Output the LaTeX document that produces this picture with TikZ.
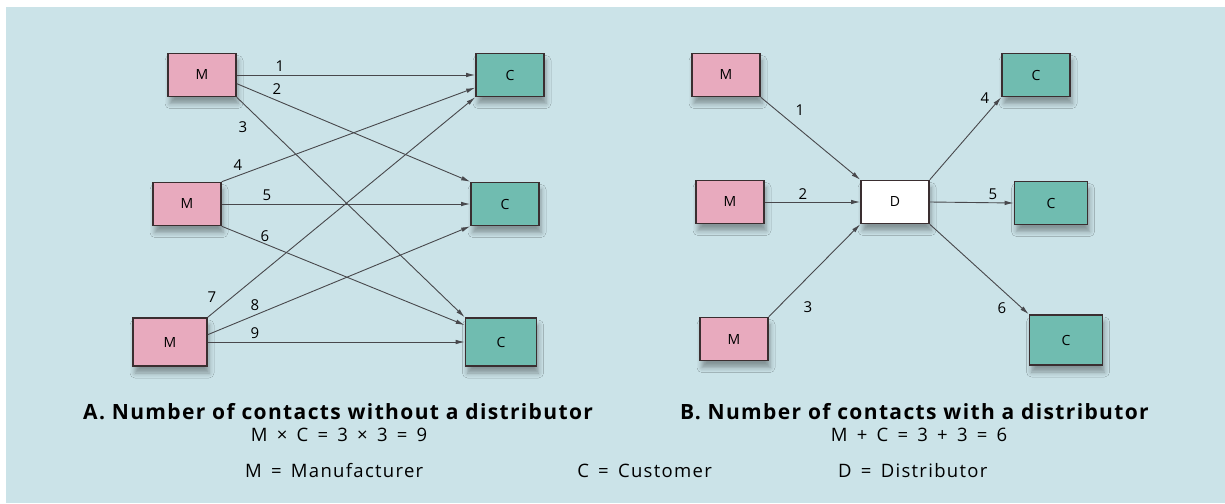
\documentclass[tikz,border=0pt]{standalone}
\usepackage{fontspec}
\setmainfont{Open Sans}
\usetikzlibrary{arrows.meta,shadows.blur}

\definecolor{pagebg}{RGB}{203,227,232}
\definecolor{mfill}{RGB}{232,170,190}
\definecolor{cfill}{RGB}{112,188,176}
\definecolor{boxline}{RGB}{58,46,48}
\definecolor{arrowline}{RGB}{72,72,76}

\newcommand{\gap}{\hspace{0.5em}}

\begin{document}
\begin{tikzpicture}[
  x=1pt, y=-1pt,
  >={Latex[length=9pt,width=4.5pt]},
  box/.style={draw=boxline, line width=1.6pt, minimum width=68pt,
    minimum height=43pt, inner sep=0pt, font=\fontsize{14}{14}\selectfont,
    blur shadow={shadow xshift=2pt, shadow yshift=-7pt,
      shadow blur radius=5pt, shadow opacity=35}},
  mbox/.style={box, fill=mfill},
  cbox/.style={box, fill=cfill},
  dbox/.style={box, fill=white},
  link/.style={->, arrowline, line width=0.9pt},
  num/.style={font=\fontsize{15}{15}\selectfont, inner sep=1pt},
  captxt/.style={font=\fontsize{21}{24}\bfseries\addfontfeatures{LetterSpace=6.5},
    anchor=west, inner sep=0pt},
  eqtxt/.style={font=\fontsize{18.5}{20}\selectfont\addfontfeatures{LetterSpace=7},
    inner sep=0pt},
]

% ── Page ──────────────────────────────────────────────────────────────────────
\fill[white] (0,0) rectangle (1225,503);
\fill[pagebg] (6,7) rectangle (1225,503);
\useasboundingbox (0,0) rectangle (1225,503);

% ── A: without a distributor ──────────────────────────────────────────────────
\node[mbox] (M1) at (202,75) {M};
\node[mbox] (M2) at (187,204) {M};
\node[mbox, minimum width=74pt, minimum height=48pt] (M3) at (170,342) {M};
\node[cbox] (C1) at (510,75) {C};
\node[cbox] (C2) at (505,204) {C};
\node[cbox, minimum width=71pt, minimum height=48pt] (C3) at (501,342) {C};

\draw[link] (M1.east)        -- (C1.west);
\draw[link] (M1.-14)         -- (C2.north west);
\draw[link] (M1.south east)  -- (C3.north west);
\draw[link] (M2.north east)  -- (C1.200);
\draw[link] (M2.east)        -- (C2.west);
\draw[link] (M2.south east)  -- (C3.155);
\draw[link] (M3.north east)  -- (C1.south west);
\draw[link] (M3.11)          -- (C2.south west);
\draw[link] (M3.east)        -- (C3.west);

\node[num] (a1) at (280,66)  {1};
\node[num] (a2) at (277,89)  {2};
\node[num] (a3) at (243,127) {3};
\node[num] (a4) at (238,165) {4};
\node[num] (a5) at (267,195) {5};
\node[num] (a6) at (265,236) {6};
\node[num] (a7) at (212,297) {7};
\node[num] (a8) at (255,305) {8};
\node[num] (a9) at (255,333) {9};

% ── B: with a distributor ─────────────────────────────────────────────────────
\node[mbox] (MA) at (726,75)  {M};
\node[mbox] (MB) at (730,202) {M};
\node[mbox] (MC) at (734,339) {M};
\node[dbox] (D)  at (895,202) {D};
\node[cbox] (CA) at (1036,75) {C};
\node[cbox, minimum width=73pt] (CB) at (1051,203) {C};
\node[cbox, minimum width=73pt, minimum height=50pt] (CC) at (1066,340) {C};

\draw[link] (MA.south east) -- (D.north west);
\draw[link] (MB.east)       -- (D.west);
\draw[link] (MC.north east) -- (D.south west);
\draw[link] (D.north east)  -- (CA.south west);
\draw[link] (D.east)        -- (CB.west);
\draw[link] (D.south east)  -- (CC.north west);

\node[num] (b1) at (800,110)  {1};
\node[num] (b2) at (803,194)  {2};
\node[num] (b3) at (808,307)  {3};
\node[num] (b4) at (985,98)   {4};
\node[num] (b5) at (993,194)  {5};
\node[num] (b6) at (1002,308) {6};

% ── Captions and key ──────────────────────────────────────────────────────────
\node[captxt] (capA) at (83,412)  {A. Number of contacts without a distributor};
\node[captxt] (capB) at (680,412) {B. Number of contacts with a distributor};
\node[eqtxt] (eqA) at (339,435) {M\gap×\gap C\gap=\gap 3\gap×\gap 3\gap=\gap 9};
\node[eqtxt] (eqB) at (919,435) {M\gap+\gap C\gap=\gap 3\gap+\gap 3\gap=\gap 6};
\node[eqtxt, anchor=west] (keyM) at (245,471) {M\gap=\gap Manufacturer};
\node[eqtxt, anchor=east] (keyC) at (712,471) {C\gap=\gap Customer};
\node[eqtxt, anchor=west] (keyD) at (838,471) {D\gap=\gap Distributor};

\end{tikzpicture}
\end{document}
